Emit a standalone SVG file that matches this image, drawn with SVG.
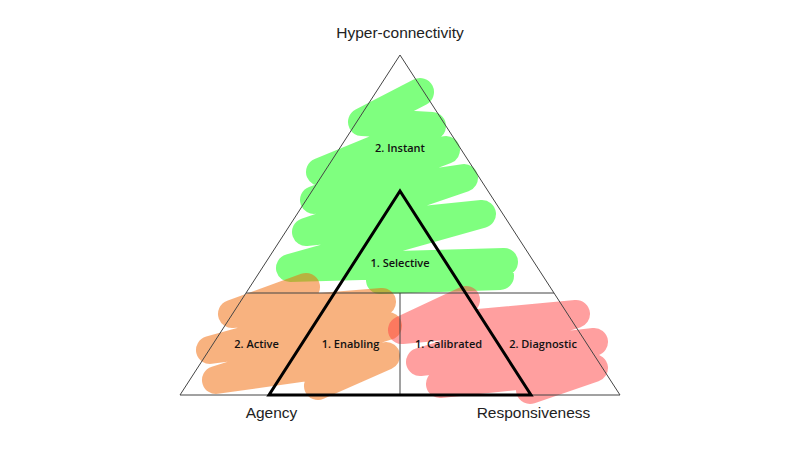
<svg xmlns="http://www.w3.org/2000/svg" width="800" height="450" viewBox="0 0 800 450">
<style>
.scr{fill:none;stroke-width:28;stroke-linecap:round;stroke-linejoin:round}
.thin{fill:none;stroke:#444;stroke-width:1}
.thick{fill:none;stroke:#000;stroke-width:3;stroke-linejoin:miter}
.ax{font-family:"Liberation Sans",Arial,sans-serif;font-size:15.5px;fill:#222;text-anchor:middle}
.lb{font-family:"Open Sans","DejaVu Sans",sans-serif;font-size:11px;font-weight:600;fill:#111;text-anchor:middle}
</style>
<rect width="800" height="450" fill="#fff"/>
<g id="scribbles">
<g id="green-scribble" opacity="0.5">
<path class="scr" stroke="#00ff00" d="M420 92 L362 122 L432 126 L320 172 L446 150 L314 200 L464 178 L306 232 L482 214 L290 268 L504 262 L380 280 L500 276"/>
</g>
<g id="orange-scribble" opacity="0.5">
<path class="scr" stroke="#f26500" d="M306 287 L232 314 L382 302 L210 350 L388 326 L216 380 L386 356 L318 386"/>
</g>
<g id="red-scribble" opacity="0.5">
<path class="scr" stroke="#ff4040" d="M466 300 L402 330 L576 314 L420 362 L594 342 L440 384 L594 368 L530 390"/>
</g>
</g>
<g id="connectors">
<path class="thin" d="M400 55 L620 395 L180 395 Z"/>
<path class="thin" d="M246 293 L554 293 M400 293 L400 395"/>
<path class="thick" d="M400 191 L531 395 L269 395 Z"/>
</g>
<g id="hyper-connectivity"><text class="ax" x="400" y="38">Hyper-connectivity</text></g>
<g id="agency"><text class="ax" x="271.5" y="418">Agency</text></g>
<g id="responsiveness"><text class="ax" x="533.5" y="418">Responsiveness</text></g>
<g id="instant"><text class="lb" x="400" y="152">2. Instant</text></g>
<g id="selective"><text class="lb" x="400" y="266.5">1. Selective</text></g>
<g id="active"><text class="lb" x="256.5" y="348">2. Active</text></g>
<g id="enabling"><text class="lb" x="350.5" y="348">1. Enabling</text></g>
<g id="calibrated"><text class="lb" x="448.5" y="348">1. Calibrated</text></g>
<g id="diagnostic"><text class="lb" x="543" y="348">2. Diagnostic</text></g>
</svg>
